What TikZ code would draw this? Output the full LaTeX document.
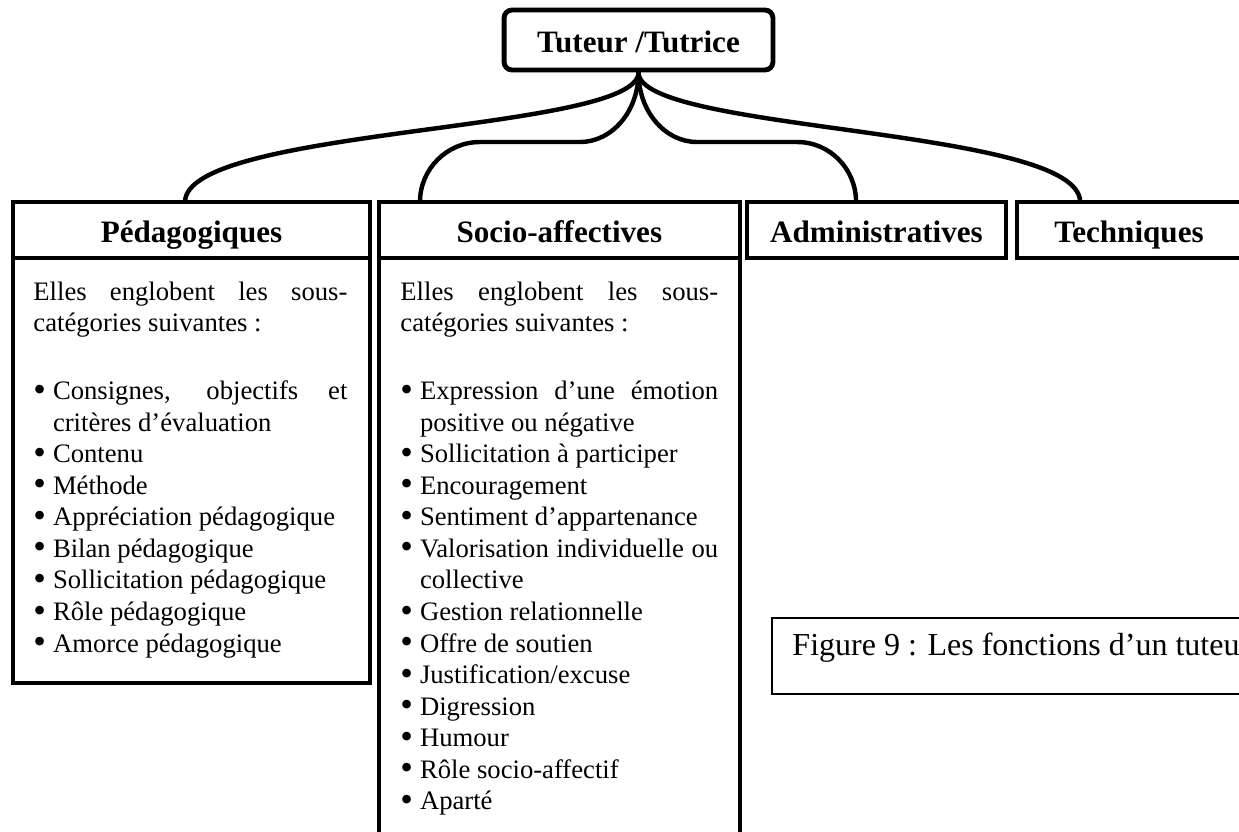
\documentclass[tikz,border=0pt]{standalone}
\usepackage{fontspec}
\setmainfont{Liberation Serif}
\usetikzlibrary{positioning}
\setlength{\parindent}{0pt}
\hyphenpenalty=10000
\newcommand{\puce}[1]{\par\hangindent=8.8pt\hangafter=1\noindent\hbox to 8.8pt{\smash{\raisebox{-0.7pt}{\scalebox{1.35}{\textbullet}}}\hfil}#1}

\begin{document}
\begin{tikzpicture}[
  x=0.45pt, y=-0.45pt,
  titre/.style={draw, line width=2.2pt, rounded corners=3.6pt, minimum width=121pt,
                minimum height=27pt, text height=12pt, text depth=0.5pt,
                font=\fontsize{14}{16}\selectfont\bfseries},
  entete/.style={draw, line width=1.8pt, outer sep=0pt, inner sep=0pt, minimum height=25.2pt,
                 text height=12pt, text depth=1.2pt, font=\fontsize{14}{16}\selectfont\bfseries},
  liste/.style={anchor=base west, inner sep=0pt, align=justify, font=\fontsize{12}{14.2}\selectfont},
  cadre/.style={draw, line width=1.8pt},
  lien/.style={line width=2pt}
]
\useasboundingbox (0,0) rectangle (1239,831);
\clip (0,0) rectangle (1239,831);

\node[titre] (tuteur) at (638.5,40) {Tuteur /Tutrice};

\node[entete, minimum width=160.7pt] (peda) at (191.5,230) {Pédagogiques};
\node[entete, minimum width=162.7pt] (socio) at (559.3,230) {Socio-affectives};
\node[entete, minimum width=116.6pt] (admin) at (876.5,230) {Administratives};
\node[entete, minimum width=100.8pt] (tech) at (1129,230) {Techniques};

\draw[cadre] (peda.south west) rectangle ++(357,425);
\draw[cadre] (socio.south west) rectangle ++(361.5,600);

\node[liste, text width=141.3pt] (pedaliste) at (33,300) {Elles englobent les sous-catégories suivantes~:\par\vspace{16.4pt}
  \puce{Consignes, objectifs et critères d’évaluation}
  \puce{Contenu}
  \puce{Méthode}
  \puce{Appréciation pédagogique}
  \puce{Bilan pédagogique}
  \puce{Sollicitation pédagogique}
  \puce{Rôle pédagogique}
  \puce{Amorce pédagogique}};

\node[liste, text width=143pt] (sociliste) at (400,300) {Elles englobent les sous-catégories suivantes~:\par\vspace{16.4pt}
  \puce{Expression d’une émotion positive ou négative}
  \puce{Sollicitation à participer}
  \puce{Encouragement}
  \puce{Sentiment d’appartenance}
  \puce{Valorisation individuelle ou collective}
  \puce{Gestion relationnelle}
  \puce{Offre de soutien}
  \puce{Justification/excuse}
  \puce{Digression}
  \puce{Humour}
  \puce{Rôle socio-affectif}
  \puce{Aparté}};

\draw[lien] (tuteur.south) .. controls +(0,60) and +(0,-75) .. ([xshift=-2.9pt]peda.north);
\draw[lien] (tuteur.south) .. controls +(0,39) and +(32,0) .. (580,142) -- (480,142)
  .. controls +(-33,0) and +(0,-33) .. ([xshift=-62.7pt]socio.north);
\draw[lien] (tuteur.south) .. controls +(0,39) and +(-32,0) .. (697,142) -- (797,142)
  .. controls +(33,0) and +(0,-33) .. ([xshift=-9.2pt]admin.north);
\draw[lien] (tuteur.south) .. controls +(0,60) and +(0,-75) .. ([xshift=-22pt]tech.north);

\node[anchor=base west, inner sep=0pt, font=\fontsize{14.4}{16}\selectfont] (legende) at (792,655) {Figure 9 : Les fonctions d’un tuteur};
\draw[line width=0.5pt] (772,618) rectangle (1300,694);
\end{tikzpicture}
\end{document}
